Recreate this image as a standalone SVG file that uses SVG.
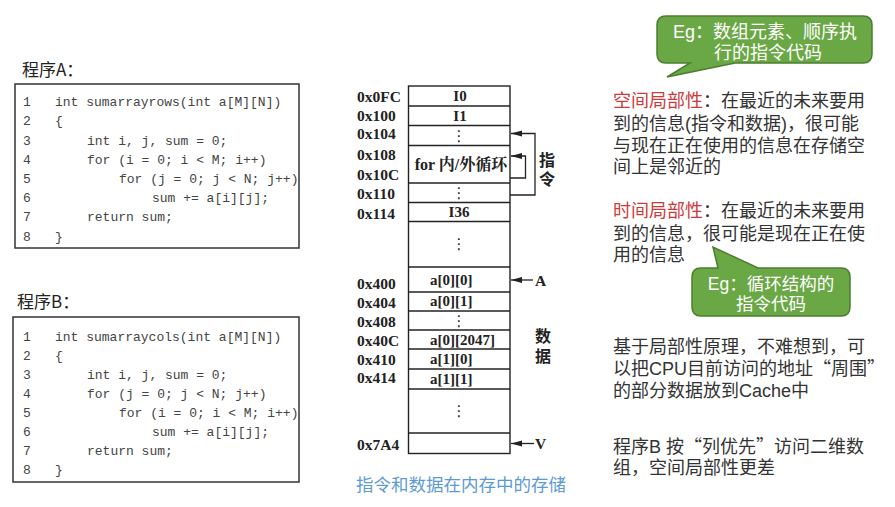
<svg xmlns="http://www.w3.org/2000/svg" width="895" height="507" viewBox="0 0 895 507">
<style>
.t{font-family:"Noto Sans CJK SC","Noto Sans",sans-serif;font-size:17px;fill:#222}
.code{font-family:"Liberation Mono","DejaVu Sans Mono",monospace;font-size:13px;fill:#444}
.box{fill:#fff;stroke:#333;stroke-width:1.5}
.addr{font-family:"Liberation Serif","Noto Sans CJK SC",serif;font-size:15.5px;font-weight:bold;fill:#222}
.cell{font-family:"Liberation Serif","Noto Serif CJK SC","Noto Sans CJK SC",serif;font-size:15px;font-weight:bold;fill:#222;text-anchor:middle}
.dots{font-family:"DejaVu Sans",sans-serif;font-size:15px;fill:#222;text-anchor:middle}
.mem{fill:#fff;stroke:#222;stroke-width:1.4}
.row{stroke:#222;stroke-width:1.4}
.lbl{font-family:"Liberation Sans","Noto Sans CJK SC",sans-serif;font-size:16px;font-weight:bold;fill:#222;text-anchor:middle}
.conn{fill:none;stroke:#222;stroke-width:1.3}
.rt{font-family:"Liberation Sans","Noto Sans CJK SC",sans-serif;font-size:18px;fill:#333}
.q{font-family:"Noto Sans CJK SC",sans-serif}
.red{fill:#cc3b3b}
.bubble{fill:#6aa845;stroke:#4c7d31;stroke-width:1.5}
.bt{font-family:"Liberation Sans","Noto Sans CJK SC",sans-serif;font-size:18px;fill:#fff;text-anchor:middle}
</style>
<defs>
<marker id="ah" markerWidth="12" markerHeight="8" refX="11" refY="4" orient="auto" markerUnits="userSpaceOnUse">
<path d="M0,1 L11,4 L0,7 Z" fill="#222"/>
</marker>
</defs>

<g id="progA">
<text class="t" x="22" y="76">程序A：</text>
<rect class="box" x="15" y="84" width="284" height="164"/>
<g class="code">
<text x="23" y="106">1</text><text x="55" y="106">int sumarrayrows(int a[M][N])</text>
<text x="23" y="125">2</text><text x="55" y="125">{</text>
<text x="23" y="144.5">3</text><text x="87" y="144.5">int i, j, sum = 0;</text>
<text x="23" y="163.5">4</text><text x="87" y="163.5">for (i = 0; i &lt; M; i++)</text>
<text x="23" y="183">5</text><text x="119" y="183">for (j = 0; j &lt; N; j++)</text>
<text x="23" y="202">6</text><text x="152" y="202">sum += a[i][j];</text>
<text x="23" y="221">7</text><text x="87" y="221">return sum;</text>
<text x="23" y="240.5">8</text><text x="55" y="240.5">}</text>
</g>
</g>

<g id="progB">
<text class="t" x="17" y="308">程序B：</text>
<rect class="box" x="13" y="317" width="286" height="165"/>
<g class="code">
<text x="23" y="341">1</text><text x="55" y="341">int sumarraycols(int a[M][N])</text>
<text x="23" y="360">2</text><text x="55" y="360">{</text>
<text x="23" y="379">3</text><text x="87" y="379">int i, j, sum = 0;</text>
<text x="23" y="398">4</text><text x="87" y="398">for (j = 0; j &lt; N; j++)</text>
<text x="23" y="417">5</text><text x="119" y="417">for (i = 0; i &lt; M; i++)</text>
<text x="23" y="436">6</text><text x="152" y="436">sum += a[i][j];</text>
<text x="23" y="455">7</text><text x="87" y="455">return sum;</text>
<text x="23" y="474">8</text><text x="55" y="474">}</text>
</g>
</g>

<g id="memory">
<rect class="mem" x="408.5" y="86" width="101.5" height="367.5"/>
<g class="row">
<line x1="408.5" y1="106" x2="510" y2="106"/>
<line x1="408.5" y1="125.5" x2="510" y2="125.5"/>
<line x1="408.5" y1="145.5" x2="510" y2="145.5"/>
<line x1="408.5" y1="183" x2="510" y2="183"/>
<line x1="408.5" y1="202.5" x2="510" y2="202.5"/>
<line x1="408.5" y1="221.5" x2="510" y2="221.5"/>
<line x1="408.5" y1="267" x2="510" y2="267"/>
<line x1="408.5" y1="292" x2="510" y2="292"/>
<line x1="408.5" y1="311" x2="510" y2="311"/>
<line x1="408.5" y1="330" x2="510" y2="330"/>
<line x1="408.5" y1="349" x2="510" y2="349"/>
<line x1="408.5" y1="369" x2="510" y2="369"/>
<line x1="408.5" y1="389" x2="510" y2="389"/>
<line x1="408.5" y1="433" x2="510" y2="433"/>
</g>
<text class="cell" x="460" y="101">I0</text>
<text class="cell" x="460" y="121">I1</text>
<text class="dots" x="459" y="141">⋮</text>
<text class="cell" x="461" y="170" style="font-size:16px">for 内/外循环</text>
<text class="dots" x="459" y="198">⋮</text>
<text class="cell" x="459" y="217">I36</text>
<text class="dots" x="459" y="249">⋮</text>
<text class="cell" x="430" y="285" style="text-anchor:start">a[0][0]</text>
<text class="cell" x="430" y="306" style="text-anchor:start">a[0][1]</text>
<text class="dots" x="459" y="326">⋮</text>
<text class="cell" x="430" y="345" style="text-anchor:start">a[0][2047]</text>
<text class="cell" x="430" y="364" style="text-anchor:start">a[1][0]</text>
<text class="cell" x="430" y="384" style="text-anchor:start">a[1][1]</text>
<text class="dots" x="459" y="416">⋮</text>
<g class="addr">
<text x="357" y="101.5">0x0FC</text>
<text x="357" y="120.5">0x100</text>
<text x="357" y="139">0x104</text>
<text x="357" y="159.5">0x108</text>
<text x="357" y="179.5">0x10C</text>
<text x="357" y="198.5">0x110</text>
<text x="357" y="219">0x114</text>
<text x="357" y="288.5">0x400</text>
<text x="357" y="308">0x404</text>
<text x="357" y="327">0x408</text>
<text x="357" y="345.5">0x40C</text>
<text x="357" y="364.5">0x410</text>
<text x="357" y="383">0x414</text>
<text x="357" y="449.5">0x7A4</text>
</g>
<text class="lbl" x="547" y="166">指<tspan x="547" dy="19">令</tspan></text>
<text class="lbl" x="543" y="342">数<tspan x="543" dy="20">据</tspan></text>
<text class="addr" x="535" y="285.5">A</text>
<text class="addr" x="535" y="449">V</text>
<text x="461" y="491" style="font-family:'Noto Sans CJK SC',sans-serif;font-size:17.5px;fill:#5b9bd5;text-anchor:middle">指令和数据在内存中的存储</text>
</g>

<g id="connectors">
<path class="conn" d="M510,195 H535 V133.5 H511" marker-end="url(#ah)"/>
<path class="conn" d="M510,178 H525.5 V156 H511" marker-end="url(#ah)"/>
<path class="conn" d="M533,280 H511" marker-end="url(#ah)"/>
<path class="conn" d="M534,443.5 H511" marker-end="url(#ah)"/>
</g>

<g id="callout1">
<path class="bubble" d="M666,16 H863 Q872,16 872,25 V54 Q872,63 863,63 H735 L667,77 L690,63 H666 Q657,63 657,54 V25 Q657,16 666,16 Z"/>
<text class="bt" x="765" y="37.5">Eg：数组元素、顺序执<tspan x="768" dy="21">行的指令代码</tspan></text>
</g>

<g id="spatial">
<text class="rt" x="613" y="106.5"><tspan class="red">空间局部性</tspan>：在最近的未来要用<tspan x="613" dy="23">到的信息(指令和数据)，很可能</tspan><tspan x="613" dy="22">与现在正在使用的信息在存储空</tspan><tspan x="613" dy="21.5">间上是邻近的</tspan></text>
</g>

<g id="temporal">
<text class="rt" x="613" y="216.5"><tspan class="red">时间局部性</tspan>：在最近的未来要用<tspan x="613" dy="23">到的信息，很可能是现在正在使</tspan><tspan x="613" dy="21">用的信息</tspan></text>
</g>

<g id="callout2">
<path class="bubble" d="M701,268 H718 L713,247 L758,268 H841 Q850,268 850,277 V307 Q850,316 841,316 H701 Q692,316 692,307 V277 Q692,268 701,268 Z"/>
<text class="bt" x="771" y="290" style="font-size:17.5px">Eg：循环结构的<tspan x="771" dy="20.3">指令代码</tspan></text>
</g>

<g id="principle">
<text class="rt" x="613" y="353">基于局部性原理，不难想到，可<tspan x="613" dy="22">以把CPU目前访问的地址</tspan><tspan class="q">“周围”</tspan><tspan x="613" dy="21.5">的部分数据放到Cache中</tspan></text>
</g>

<g id="progBnote">
<text class="rt" x="613" y="453">程序B 按<tspan class="q">“</tspan>列优先<tspan class="q">”</tspan>访问二维数<tspan x="613" dy="21">组，空间局部性更差</tspan></text>
</g>
</svg>
